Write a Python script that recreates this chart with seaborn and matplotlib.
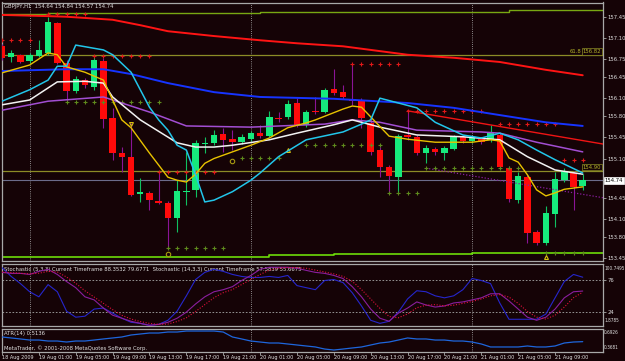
import numpy as np
import pandas as pd
import matplotlib
matplotlib.use("Agg")
import matplotlib.pyplot as plt
import matplotlib.transforms as mtransforms
from matplotlib import font_manager as fm
import seaborn as sns

# ---------------- data ----------------
header_main = "GBPJPY,H1  154.64 154.84 154.57 154.74"
header_stoch = ("Stochastic (5,3,3) Current Timeframe 88.3532 79.6771  "
                "Stochastic (14,3,3) Current Timeframe 57.5839 55.6675")
header_atr = "ATR(14) 0.5136"
copyright_txt = "MetaTrader, \u00a9 2001-2008 MetaQuotes Software Corp."

opens = [156.96, 156.78, 156.82, 156.72, 156.80, 156.85, 157.35, 156.68, 156.22, 156.40,
         156.29, 156.72, 155.77, 155.19, 155.13, 154.51, 154.53, 154.40, 154.36, 154.11,
         154.55, 154.58, 155.34, 155.36, 155.51, 155.42, 155.37, 155.42, 155.52, 155.47,
         155.77, 155.79, 156.02, 155.66, 155.89, 155.87, 156.25, 156.20, 156.09, 156.07,
         155.69, 155.24, 154.96, 154.79, 155.49, 155.46, 155.19, 155.26, 155.19, 155.26,
         155.46, 155.39, 155.42, 155.41, 155.49, 154.94, 154.41, 154.79, 153.88, 153.70,
         154.18, 154.74, 154.86, 154.64]
highs = [157.00, 156.90, 156.83, 156.85, 157.06, 157.45, 157.36, 156.73, 156.47, 156.43,
         156.78, 156.77, 155.94, 155.29, 155.69, 154.78, 154.56, 154.88, 154.40, 154.74,
         155.21, 155.41, 155.46, 155.57, 155.61, 155.57, 155.51, 155.56, 155.66, 155.89,
         155.87, 156.07, 156.10, 155.90, 156.12, 156.27, 156.58, 156.32, 156.68, 156.10,
         155.77, 155.29, 154.99, 155.51, 155.87, 155.49, 155.32, 155.29, 155.31, 155.49,
         155.49, 155.47, 155.46, 155.66, 155.52, 154.98, 154.88, 154.83, 153.91, 154.31,
         154.88, 154.94, 154.89, 154.84]
lows = [156.73, 156.70, 156.68, 156.68, 156.78, 156.82, 156.67, 156.07, 156.19, 156.27,
        156.24, 155.61, 155.08, 154.88, 154.48, 154.38, 154.25, 154.35, 153.62, 153.88,
        154.33, 154.46, 155.19, 155.32, 155.21, 155.24, 155.34, 155.39, 155.44, 155.46,
        155.70, 155.75, 155.62, 155.62, 155.84, 155.85, 156.15, 156.09, 155.99, 155.61,
        155.16, 154.79, 154.55, 154.53, 155.41, 155.16, 155.03, 155.16, 155.08, 155.24,
        155.36, 155.36, 155.34, 155.37, 154.93, 154.38, 154.36, 153.70, 153.67, 153.67,
        153.96, 154.71, 154.25, 154.57]
closes = [156.77, 156.85, 156.70, 156.82, 156.90, 157.36, 156.68, 156.22, 156.42, 156.32,
          156.73, 155.75, 155.19, 155.13, 154.50, 154.55, 154.41, 154.36, 154.11, 154.56,
          154.56, 155.36, 155.36, 155.49, 155.41, 155.37, 155.46, 155.52, 155.47, 155.79,
          155.75, 156.00, 155.66, 155.87, 155.87, 156.24, 156.19, 156.12, 156.05, 155.77,
          155.21, 154.96, 154.81, 155.47, 155.46, 155.19, 155.27, 155.21, 155.27, 155.46,
          155.39, 155.44, 155.37, 155.52, 154.96, 154.43, 154.81, 153.87, 153.70, 154.20,
          154.76, 154.89, 154.63, 154.74]

# moving averages (bar index, value)
ma_red_bars = [0, 5, 7, 12, 15, 18, 23, 28, 32, 37, 44, 49, 54, 59, 63]
ma_red_vals = [157.48, 157.46, 157.45, 157.40, 157.31, 157.21, 157.13, 157.06, 157.01,
               156.96, 156.82, 156.77, 156.70, 156.57, 156.48]
ma_blue_bars = [0, 7, 11, 14, 18, 23, 28, 36, 44, 49, 54, 59, 63]
ma_blue_vals = [156.55, 156.58, 156.58, 156.50, 156.35, 156.20, 156.12, 156.09, 156.02,
                155.94, 155.82, 155.70, 155.64]
ma_violet_bars = [0, 5, 11, 16, 20, 27, 35, 38, 41, 45, 52, 54, 58, 63]
ma_violet_vals = [155.90, 156.05, 156.12, 155.87, 155.64, 155.62, 155.67, 155.74, 155.70,
                  155.57, 155.54, 155.52, 155.37, 155.21]
ma_white_bars = [0, 3, 6, 9, 11, 12, 15, 19, 21, 23, 25, 29, 32, 36, 38, 41, 45, 50, 54,
                 57, 60, 63]
ma_white_vals = [155.99, 156.07, 156.37, 156.38, 156.35, 156.12, 155.74, 155.36, 155.29,
                 155.29, 155.32, 155.41, 155.52, 155.66, 155.74, 155.62, 155.49, 155.46,
                 155.41, 155.13, 154.91, 154.84]
ma_cyan_bars = [0, 3, 5, 6, 7, 8, 11, 12, 14, 16, 17, 18, 19, 20, 21, 22, 23, 25, 27, 28,
                30, 33, 37, 39, 40, 41, 43, 45, 47, 50, 52, 54, 56, 58, 60, 63]
ma_cyan_vals = [156.05, 156.24, 156.40, 156.63, 156.63, 156.98, 156.90, 156.82, 156.53,
                155.95, 155.74, 155.57, 155.32, 155.24, 154.83, 154.38, 154.41, 154.55,
                154.74, 154.86, 155.13, 155.41, 155.54, 155.67, 155.74, 156.10, 156.02,
                155.94, 155.70, 155.49, 155.44, 155.52, 155.41, 155.24, 155.08, 154.86]
ma_yellow_bars = [0, 3, 5, 6, 7, 9, 11, 12, 13, 14, 16, 18, 19, 20, 21, 22, 23, 25, 27,
                  29, 31, 33, 34, 37, 38, 39, 40, 42, 44, 47, 51, 53, 54, 55, 56, 57, 58,
                  59, 60, 61, 63]
ma_yellow_vals = [156.52, 156.65, 156.85, 156.82, 156.62, 156.53, 156.40, 156.07, 155.74,
                  155.61, 155.19, 154.79, 154.74, 154.71, 154.84, 155.02, 155.10, 155.21,
                  155.32, 155.44, 155.61, 155.69, 155.74, 155.92, 155.97, 155.95, 155.79,
                  155.47, 155.42, 155.37, 155.37, 155.41, 155.39, 155.11, 155.04, 154.83,
                  154.58, 154.48, 154.53, 154.59, 154.63]

# channel lines (step levels) and trend lines
upper_band_bars = [0, 5, 28, 55, 65.2]
upper_band_vals = [157.49, 157.51, 157.53, 157.56, 157.56]
lower_band_bars = [0, 7, 29, 36, 51, 65.2]
lower_band_vals = [153.46, 153.47, 153.50, 153.52, 153.53, 153.53]
trend_red_bars = [44, 65.2]
trend_red_vals = [155.89, 155.34]
trend_violet_bars = [46, 65.2]
trend_violet_vals = [154.94, 154.45]

fib_level = 156.82
fib_name = "61.8"
level_2 = 154.90
last_price = 154.74

# marker rows: (price, first bar, last bar)
red_rows = [(157.06, 0, 3), (157.49, 5, 9), (156.80, 10, 16), (154.88, 17, 23),
            (156.67, 38, 43), (155.89, 44, 52), (155.67, 54, 60), (155.08, 61, 63)]
olive_rows = [(156.04, 7, 17), (153.62, 18, 24), (155.11, 26, 30), (155.32, 33, 41),
              (154.53, 42, 45), (154.94, 46, 56), (153.53, 59, 63)]
circle_bars = [18, 25]
circle_vals = [153.52, 155.06]
tri_up_bars = [31, 59]
tri_up_vals = [155.24, 153.46]
tri_dn_bars = [14]
tri_dn_vals = [155.68]

# stochastic panel
stoch_blue = [95, 80.9, 69.5, 56.5, 48.4, 67.9, 56.5, 25.6, 15.9, 17.5,
              28.9, 30.5, 22.4, 14.3, 7.8, 6.1, 2.9, 4.5, 11, 25.6,
              50, 76, 87.4, 92.3, 89, 84.1, 80.9, 79.3, 79.3, 80.9,
              79.3, 82.5, 66.3, 63, 59.8, 74.4, 76, 71.1, 54.9, 33.8,
              11, 6.1, 9.4, 24, 45.1, 58.1, 56.5, 50, 46.8, 50,
              59.8, 77.6, 74.4, 69.5, 38.6, 12.6, 12.6, 12.6, 12.6, 20.8,
              46.8, 72.8, 84.1, 79.7]
stoch_violet = [87.4, 85.8, 85.8, 84.1, 89, 92.3, 84.1, 72.8, 63, 48.4,
                43.5, 30.5, 19.1, 14.3, 9.4, 6.1, 2.9, 4.5, 7.8, 14.3,
                24, 37, 48.4, 56.5, 59.8, 64.6, 74.4, 82.5, 92.3, 95.5,
                95.5, 95.5, 93.9, 90.6, 87.4, 85.8, 82.5, 77.6, 64.6, 48.4,
                28.9, 14.3, 9.4, 22.4, 30.5, 40.3, 35.4, 32.1, 33.8, 38.6,
                40.3, 43.5, 46.8, 53.3, 53.3, 41.9, 28.9, 15.9, 11, 15.9,
                28.9, 46.8, 56.5, 57.6]
stoch_signal = [88, 87, 86, 85, 86, 89, 88, 80, 70, 58,
                48, 38, 28, 19, 13, 9, 6, 4.5, 5, 9,
                15, 25, 36, 47, 55, 60, 68, 76, 84, 91,
                94, 95, 95, 94, 91, 88, 85, 81, 73, 60,
                45, 30, 17, 15, 21, 31, 35, 36, 34, 35,
                38, 41, 45, 50, 52, 48, 38, 25, 16, 13,
                19, 32, 47, 55.7]
stoch_levels = [76, 24]
stoch_range = (1.8785, 100.7495)

atr_vals = [.580, .566, .552, .537, .537, .523, .523, .509, .523, .523,
            .537, .552, .566, .580, .608, .622, .636, .636, .650, .650,
            .664, .664, .664, .664, .650, .580, .552, .523, .509, .495,
            .495, .481, .467, .453, .439, .410, .396, .410, .425, .439,
            .467, .495, .509, .537, .566, .552, .552, .537, .537, .523,
            .523, .509, .481, .439, .439, .439, .439, .453, .439, .439,
            .453, .495, .509, .514]
atr_range = (0.3681, 0.6926)

price_ticks = [157.45, 157.10, 156.75, 156.45, 156.10, 155.80, 155.45, 155.10,
               154.45, 154.10, 153.80, 153.45]
time_bars = [0, 4, 8, 12, 16, 20, 24, 28, 32, 36, 40, 44, 48, 52, 56, 60]
time_labels = ["18 Aug 2009", "19 Aug 01:00", "19 Aug 05:00", "19 Aug 09:00",
               "19 Aug 13:00", "19 Aug 17:00", "19 Aug 21:00", "20 Aug 01:00",
               "20 Aug 05:00", "20 Aug 09:00", "20 Aug 13:00", "20 Aug 17:00",
               "20 Aug 21:00", "21 Aug 01:00", "21 Aug 05:00", "21 Aug 09:00"]
day_separators = [3, 27, 51]

# ---------------- style ----------------
BG = "#150306"
GRID = "#a8a8a8"
TXT = "#e0e0e0"
sns.set_theme(style="dark", rc={"axes.facecolor": BG, "figure.facecolor": BG})

# pick the narrowest installed sans family for the tiny terminal-style text
_fonts = fm.fontManager.ttflist
_names = {f.name for f in _fonts}
STRETCH = "normal"
if "Liberation Sans Narrow" in _names:
    FONT, SCALE = ["Liberation Sans Narrow", "DejaVu Sans"], 1.22
elif any(f.name == "DejaVu Sans" and str(f.stretch) in ("condensed", "semi-condensed")
         for f in _fonts):
    FONT, SCALE, STRETCH = ["DejaVu Sans"], 1.0, "condensed"
else:
    FONT, SCALE = ["Liberation Sans", "DejaVu Sans"], 1.0
plt.rcParams["font.family"] = FONT
plt.rcParams["font.stretch"] = STRETCH
FS = 4.2 * SCALE        # headers and price labels
FS_T = 4.0 * SCALE      # time axis
FS_S = 3.4 * SCALE      # long scale labels

W, H = 625, 361
fig = plt.figure(figsize=(6.25, 3.61), dpi=100)


def rect(x0, y0, x1, y1):
    return [x0 / W, 1 - y1 / H, (x1 - x0) / W, (y1 - y0) / H]


ax = fig.add_axes(rect(2, 2.5, 603, 261))
ax_st = fig.add_axes(rect(2, 264, 603, 326))
ax_atr = fig.add_axes(rect(2, 329, 603, 352))
XLIM = (0, 65.2)

for a in (ax, ax_st, ax_atr):
    a.set_facecolor(BG)
    a.set_xlim(*XLIM)
    a.grid(False)
    for s in a.spines.values():
        s.set_color(GRID)
        s.set_linewidth(0.9)
    a.tick_params(axis="x", bottom=False, labelbottom=False)
    for b in day_separators:
        a.axvline(b, color="#b4b4b4", lw=0.6, ls=(0, (1, 1.6)), zorder=1)

# ---------------- main price panel ----------------
ax.set_ylim(153.401, 157.686)
df = pd.DataFrame({"o": opens, "h": highs, "l": lows, "c": closes})
df["i"] = np.arange(len(df))
up = df["c"] >= df["o"]
GREEN = "#16ea7c"
RED = "#ff0a0a"
for sub, body_c, wick_c in [(df[up], GREEN, "#10c060"), (df[~up], RED, "#8a1496")]:
    ax.vlines(sub["i"], sub["l"], sub["h"], color=wick_c, lw=0.8, zorder=3)
    ax.bar(sub["i"], (sub["c"] - sub["o"]).abs().clip(lower=0.016),
           bottom=np.minimum(sub["o"], sub["c"]), width=0.7, color=body_c,
           linewidth=0, zorder=4)

# horizontal levels
ax.axhline(fib_level, color="#8c8c26", lw=0.9, zorder=2)
ax.axhline(level_2, color="#8c8c26", lw=0.9, zorder=2)
ax.axhline(last_price, color="#6c6c8a", lw=0.8, zorder=2)

# bands and trend lines
ax.plot(upper_band_bars, upper_band_vals, drawstyle="steps-post", color="#78a812", lw=1.0, zorder=2)
ax.plot(lower_band_bars, lower_band_vals, drawstyle="steps-post", color="#6cdc08", lw=1.2, zorder=2)
sns.lineplot(x=trend_red_bars, y=trend_red_vals, ax=ax, color="#f01414", lw=1.0, zorder=5)
ax.plot(trend_violet_bars, trend_violet_vals, color="#8a1ea0", lw=0.9, ls=(0, (1, 1.5)), zorder=5)

# marker rows
for lvl, a0, a1 in red_rows:
    bars = np.arange(a0, a1 + 1)
    ax.plot(bars, np.full(len(bars), lvl), ls="none", marker="+", ms=2.4, mew=0.8,
            color="#e01818", zorder=6)
for lvl, a0, a1 in olive_rows:
    bars = np.arange(a0, a1 + 1)
    ax.plot(bars, np.full(len(bars), lvl), ls="none", marker="+", ms=2.4, mew=0.8,
            color="#5e8a1c", zorder=6)
ax.plot(circle_bars, circle_vals, ls="none", marker="o", ms=3.2, mfc="none", mew=0.8,
        color="#a89a10", zorder=6)
ax.plot(tri_up_bars, tri_up_vals, ls="none", marker="^", ms=2.8, mfc="none", mew=0.8,
        color="#d8c010", zorder=6)
ax.plot(tri_dn_bars, tri_dn_vals, ls="none", marker="v", ms=2.8, mfc="none", mew=0.8,
        color="#d8c010", zorder=6)

# moving averages
ma_specs = [
    (ma_red_bars, ma_red_vals, "#ff1414", 1.4),
    (ma_blue_bars, ma_blue_vals, "#1634ff", 1.4),
    (ma_violet_bars, ma_violet_vals, "#a24ed2", 1.1),
    (ma_white_bars, ma_white_vals, "#f2f2f2", 1.1),
    (ma_yellow_bars, ma_yellow_vals, "#e8c200", 1.0),
    (ma_cyan_bars, ma_cyan_vals, "#22c6ea", 1.1),
]
for bars, vals, col, lw in ma_specs:
    sns.lineplot(x=bars, y=vals, ax=ax, color=col, lw=lw, zorder=7,
                 estimator=None, legend=False)

ax.set_xlabel("")
ax.set_ylabel("")
ax.yaxis.tick_right()
ax.set_yticks(price_ticks)
ax.set_yticklabels([f"{t:.2f}" for t in price_ticks])
ax.tick_params(axis="y", right=True, left=False, length=2, width=0.6, color=GRID,
               labelsize=FS, labelcolor=TXT, pad=1.0)

trans = mtransforms.blended_transform_factory(ax.transAxes, ax.transData)
ax.text(0.944, fib_level + 0.01, fib_name, transform=trans, ha="left", va="bottom",
        fontsize=FS, color="#b4b428")
ax.text(0.997, fib_level + 0.015, f"{fib_level:.2f}", transform=trans, ha="right", va="bottom",
        fontsize=FS, color="#b4b428",
        bbox=dict(boxstyle="square,pad=0.12", fc=BG, ec="#8c8c26", lw=0.5))
ax.text(0.997, level_2 + 0.015, f"{level_2:.2f}", transform=trans, ha="right", va="bottom",
        fontsize=FS, color="#b4b428",
        bbox=dict(boxstyle="square,pad=0.12", fc=BG, ec="#8c8c26", lw=0.5))
ax.text(1.003, last_price, f"{last_price:.2f}", transform=trans, ha="left", va="center",
        fontsize=FS, color="black",
        bbox=dict(boxstyle="square,pad=0.18", fc="white", ec="white", lw=0.5))
ax.text(0.004, 0.993, header_main, transform=ax.transAxes, ha="left", va="top",
        fontsize=FS, color=TXT)

# ---------------- stochastic panel ----------------
ax_st.set_ylim(*stoch_range)
idx = np.arange(len(stoch_blue))
for lvl in stoch_levels:
    ax_st.axhline(lvl, color="#a8a8a8", lw=0.6, ls=(0, (2, 2)), zorder=1)
sns.lineplot(x=idx, y=stoch_blue, ax=ax_st, color="#2626cc", lw=0.8, zorder=4,
             estimator=None, legend=False)
sns.lineplot(x=idx, y=stoch_violet, ax=ax_st, color="#8a1e9e", lw=0.8, zorder=4,
             estimator=None, legend=False)
ax_st.plot(idx, stoch_signal, color="#e0103a", lw=0.8, ls=(0, (1, 1.5)), zorder=5)
ax_st.set_xlabel("")
ax_st.set_ylabel("")
ax_st.yaxis.tick_right()
ax_st.set_yticks(stoch_levels)
ax_st.set_yticklabels([str(v) for v in stoch_levels])
ax_st.tick_params(axis="y", right=True, left=False, length=2, width=0.6, color=GRID,
                  labelsize=FS, labelcolor=TXT, pad=1.0)
ax_st.text(1.002, 0.97, f"{stoch_range[1]:.4f}", transform=ax_st.transAxes, ha="left",
           va="top", fontsize=FS_S, color=TXT)
ax_st.text(1.002, 0.05, f"{stoch_range[0]:.4f}", transform=ax_st.transAxes, ha="left",
           va="bottom", fontsize=FS_S, color=TXT)
ax_st.text(0.004, 0.95, header_stoch, transform=ax_st.transAxes, ha="left", va="top",
           fontsize=FS, color=TXT)

# ---------------- ATR panel ----------------
ax_atr.set_ylim(*atr_range)
sns.lineplot(x=np.arange(len(atr_vals)), y=atr_vals, ax=ax_atr, color="#1e66dc", lw=0.9,
             zorder=4, estimator=None, legend=False)
ax_atr.set_xlabel("")
ax_atr.set_ylabel("")
ax_atr.set_yticks([])
ax_atr.text(1.002, 0.95, f"{atr_range[1]:.4f}", transform=ax_atr.transAxes, ha="left",
            va="top", fontsize=FS_S, color=TXT)
ax_atr.text(1.002, 0.08, f"{atr_range[0]:.4f}", transform=ax_atr.transAxes, ha="left",
            va="bottom", fontsize=FS_S, color=TXT)
ax_atr.text(0.004, 0.92, header_atr, transform=ax_atr.transAxes, ha="left", va="top",
            fontsize=FS, color=TXT)
ax_atr.text(0.004, 0.06, copyright_txt, transform=ax_atr.transAxes, ha="left",
            va="bottom", fontsize=FS, color=TXT)

ax_atr.set_xticks(time_bars)
ax_atr.set_xticklabels(time_labels)
ax_atr.tick_params(axis="x", bottom=True, labelbottom=True, length=2, width=0.6,
                   color=GRID, labelsize=FS_T, labelcolor=TXT, pad=0.5)
for lbl in ax_atr.get_xticklabels():
    lbl.set_ha("left")

fig.savefig("out.png", dpi=100, facecolor=BG)
